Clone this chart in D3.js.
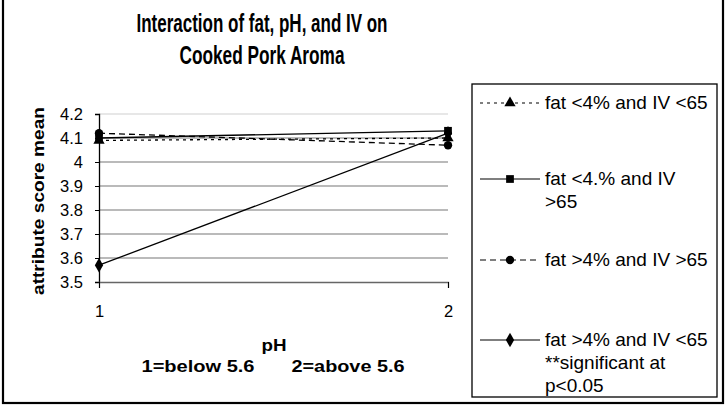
<!DOCTYPE html>
<html>
<head>
<meta charset="utf-8">
<script src="https://cdnjs.cloudflare.com/ajax/libs/d3/7.8.5/d3.min.js"></script>
<style>
  body { margin: 0; background: #fff; }
  text { font-family: "Liberation Sans", Arial, sans-serif; fill: #000; }
</style>
</head>
<body>
<script>
var phLevels = [1, 2];
var seriesNames = ["fat <4% and IV <65", "fat <4.% and IV >65", "fat >4% and IV >65", "fat >4% and IV <65"];
var lowFatLowIV = [4.09, 4.10];
var lowFatHighIV = [4.10, 4.13];
var highFatHighIV = [4.12, 4.07];
var highFatLowIV = [3.57, 4.12];
var yTicks = [3.5, 3.6, 3.7, 3.8, 3.9, 4, 4.1, 4.2];

var width = 726, height = 406;

var svg = d3.select("body").append("svg")
  .attr("width", width)
  .attr("height", height);

// outer frame
svg.append("rect")
  .attr("x", 3).attr("y", -4)
  .attr("width", 720).attr("height", 407)
  .style("fill", "none").style("stroke", "#000").style("stroke-width", 2.2);

var x = d3.scaleLinear().domain([1, 2]).range([99, 448]);
var y = d3.scaleLinear().domain([3.5, 4.2]).range([282, 114]);

// gridlines
svg.append("g").selectAll("line")
  .data(yTicks.slice(1))
  .enter().append("line")
  .attr("x1", x(1)).attr("x2", x(2))
  .attr("y1", d => y(d)).attr("y2", d => y(d))
  .style("stroke", d => d == 4.2 ? "#d0d0d0" : "#777")
  .style("stroke-width", 1.2);

var yAxis = svg.append("g")
  .attr("transform", "translate(" + x(1) + ",0)")
  .call(d3.axisLeft(y).tickValues(yTicks).tickSize(4).tickPadding(12).tickFormat(d3.format("")));
yAxis.selectAll("text").style("font-size", "16.5px");

var xAxis = svg.append("g")
  .attr("transform", "translate(0," + y(3.5) + ")")
  .call(d3.axisBottom(x).tickValues(phLevels).tickSize(6).tickPadding(17).tickFormat(d3.format("d")));
xAxis.selectAll("text").style("font-size", "16.5px");
svg.selectAll(".domain").style("stroke", "#000").style("stroke-width", 1.3);
svg.selectAll(".tick line").style("stroke", "#000");
xAxis.select(".domain").style("stroke", "#666");

// title, condensed like the original
svg.append("text").attr("x", 262).attr("y", 32)
  .attr("text-anchor", "middle")
  .attr("textLength", 251).attr("lengthAdjust", "spacingAndGlyphs")
  .style("font-weight", "bold").style("font-size", "25px")
  .text("Interaction of fat, pH, and IV on");
svg.append("text").attr("x", 262).attr("y", 64)
  .attr("text-anchor", "middle")
  .attr("textLength", 165).attr("lengthAdjust", "spacingAndGlyphs")
  .style("font-weight", "bold").style("font-size", "25px")
  .text("Cooked Pork Aroma");

svg.append("text")
  .attr("transform", "translate(44,201) rotate(-90)")
  .attr("text-anchor", "middle")
  .attr("textLength", 188).attr("lengthAdjust", "spacingAndGlyphs")
  .style("font-weight", "bold").style("font-size", "17px")
  .text("attribute score mean");

svg.append("text").attr("x", 274).attr("y", 351)
  .attr("text-anchor", "middle")
  .attr("textLength", 25).attr("lengthAdjust", "spacingAndGlyphs")
  .style("font-weight", "bold").style("font-size", "16px")
  .text("pH");
svg.append("text").attr("x", 198).attr("y", 372)
  .attr("text-anchor", "middle")
  .attr("textLength", 113).attr("lengthAdjust", "spacingAndGlyphs")
  .style("font-weight", "bold").style("font-size", "16px")
  .text("1=below 5.6");
svg.append("text").attr("x", 348).attr("y", 372)
  .attr("text-anchor", "middle")
  .attr("textLength", 113).attr("lengthAdjust", "spacingAndGlyphs")
  .style("font-weight", "bold").style("font-size", "16px")
  .text("2=above 5.6");

var series = [
  {name: seriesNames[0], values: lowFatLowIV, dash: "3,4", sym: d3.symbolTriangle, size: 55},
  {name: seriesNames[1], values: lowFatHighIV, dash: null, sym: d3.symbolSquare, size: 60},
  {name: seriesNames[2], values: highFatHighIV, dash: "6,4", sym: d3.symbolCircle, size: 55},
  {name: seriesNames[3], values: highFatLowIV, dash: null, sym: d3.symbolDiamond, size: 60}
];

var line = d3.line()
  .x((d, i) => x(phLevels[i]))
  .y(d => y(d));

series.forEach(function(s){
  svg.append("path")
    .datum(s.values)
    .attr("d", line)
    .style("fill", "none")
    .style("stroke", "#000")
    .style("stroke-width", 1.3)
    .style("stroke-dasharray", s.dash);
  svg.append("g").selectAll("path")
    .data(s.values)
    .enter().append("path")
    .attr("transform", (d, i) => "translate(" + x(phLevels[i]) + "," + y(d) + ")")
    .attr("d", d3.symbol().type(s.sym).size(s.size))
    .style("fill", "#000");
});

// legend
var legend = svg.append("g");
legend.append("rect")
  .attr("x", 472).attr("y", 84)
  .attr("width", 245).attr("height", 313)
  .style("fill", "#fff").style("stroke", "#000").style("stroke-width", 1.3);

var legendRows = [
  {y: 103, lines: ["fat <4% and IV <65"]},
  {y: 179, lines: ["fat <4.% and IV", ">65"]},
  {y: 260, lines: ["fat >4% and IV >65"]},
  {y: 340, lines: ["fat >4% and IV <65", "**significant at", "p<0.05"]}
];

legendRows.forEach(function(r, i){
  var s = series[i];
  legend.append("line")
    .attr("x1", 480).attr("x2", 540)
    .attr("y1", r.y).attr("y2", r.y)
    .style("stroke", "#000").style("stroke-width", 1.2)
    .style("stroke-dasharray", s.dash);
  legend.append("path")
    .attr("transform", "translate(510," + r.y + ")")
    .attr("d", d3.symbol().type(s.sym).size(s.size))
    .style("fill", "#000");
  r.lines.forEach(function(t, j){
    legend.append("text")
      .attr("x", 545).attr("y", r.y + 6 + j * 23)
      .style("font-size", "19px")
      .text(t);
  });
});
</script>
</body>
</html>
